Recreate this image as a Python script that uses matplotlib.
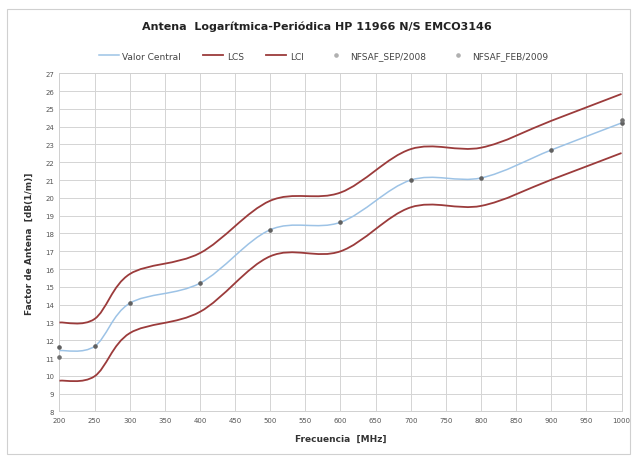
import matplotlib
matplotlib.use("Agg")
import matplotlib.pyplot as plt
from matplotlib.path import Path
from matplotlib.patches import PathPatch, Rectangle
from matplotlib.lines import Line2D
import numpy as np

# ---- data ----
freq = [200, 250, 300, 400, 500, 600, 700, 800, 900, 1000]
valor_central = [11.42, 11.66, 14.08, 15.21, 18.21, 18.63, 21.00, 21.12, 22.69, 24.21]
lcs = [13.00, 13.20, 15.72, 16.90, 19.84, 20.30, 22.74, 22.82, 24.33, 25.84]
lci = [9.73, 9.98, 12.40, 13.60, 16.72, 17.00, 19.47, 19.55, 21.02, 22.52]
sep_freq = [200, 250, 300, 400, 500, 600, 700, 800, 900, 1000]
sep_vals = [11.61, 11.66, 14.08, 15.21, 18.21, 18.63, 21.00, 21.12, 22.69, 24.21]
feb_freq = [200, 1000]
feb_vals = [11.05, 24.35]
xticks = list(range(200, 1001, 50))
yticks = list(range(8, 28))

plt.rcParams['font.family'] = ['DejaVu Sans']

fig = plt.figure(figsize=(6.34, 4.64), dpi=100)
fig.patch.set_facecolor('white')
# chart area border
fig.add_artist(Rectangle((0.011, 0.02), 0.983, 0.958, transform=fig.transFigure,
                         fill=False, edgecolor='#d0d0d0', linewidth=0.8))

ax = fig.add_axes([0.0938, 0.111, 0.8865, 0.7289])


def smooth_path(xs, ys):
    """Excel-style smoothed line: Catmull-Rom bezier segments."""
    pts = np.column_stack([xs, ys]).astype(float)
    n = len(pts)
    verts = [pts[0]]
    codes = [Path.MOVETO]
    for i in range(n - 1):
        p0 = pts[i - 1] if i > 0 else pts[i]
        p1 = pts[i]
        p2 = pts[i + 1]
        p3 = pts[i + 2] if i + 2 < n else pts[i + 1]
        c1 = p1 + (p2 - p0) / 6.0
        c2 = p2 - (p3 - p1) / 6.0
        verts += [c1, c2, p2]
        codes += [Path.CURVE4] * 3
    return Path(verts, codes)


red = '#9b3b3b'
blue = '#9dc3e6'
ax.add_patch(PathPatch(smooth_path(freq, lcs), fill=False, edgecolor=red, lw=1.3, zorder=3))
ax.add_patch(PathPatch(smooth_path(freq, lci), fill=False, edgecolor=red, lw=1.3, zorder=3))
ax.add_patch(PathPatch(smooth_path(freq, valor_central), fill=False, edgecolor=blue, lw=1.1, zorder=3))
ax.plot(sep_freq, sep_vals, linestyle='none', marker='o', ms=2.3, color='#606060', zorder=4,
        clip_on=False)
ax.plot(feb_freq, feb_vals, linestyle='none', marker='o', ms=2.3, color='#707070', zorder=4,
        clip_on=False)

ax.set_xlim(200, 1000)
ax.set_ylim(8, 27)
ax.set_xticks(xticks)
ax.set_yticks(yticks)
ax.tick_params(labelsize=5, colors='#555555', length=0, pad=4)
ax.grid(True, color='#d4d4d4', linewidth=0.7)
ax.set_axisbelow(True)
for s in ax.spines.values():
    s.set_color('#d0d0d0')
    s.set_linewidth(0.7)

ax.set_xlabel('Frecuencia  [MHz]', fontsize=6.5, fontweight='bold', color='#333333', labelpad=8)
ax.set_ylabel('Factor de Antena  [dB(1/m)]', fontsize=6.5, fontweight='bold', color='#333333', labelpad=8)

fig.text(0.50, 0.942, 'Antena  Logarítmica-Periódica HP 11966 N/S EMCO3146',
         ha='center', va='center', fontsize=8, fontweight='bold', color='#222222')

handles = [
    Line2D([], [], color=blue, lw=1.1),
    Line2D([], [], color=red, lw=1.3),
    Line2D([], [], color=red, lw=1.3),
    Line2D([], [], linestyle='none', marker='o', ms=2.3, color='#b0b0b0'),
    Line2D([], [], linestyle='none', marker='o', ms=2.3, color='#b0b0b0'),
]
labels = ['Valor Central', 'LCS', 'LCI', 'NFSAF_SEP/2008', 'NFSAF_FEB/2009']
fig.legend(handles, labels, loc='center', bbox_to_anchor=(0.51, 0.877), ncol=5,
           frameon=False, fontsize=6.5, handlelength=2.2, columnspacing=2.5,
           handletextpad=0.4, labelcolor='#444444')

fig.savefig('out.png', dpi=100, facecolor='white')
